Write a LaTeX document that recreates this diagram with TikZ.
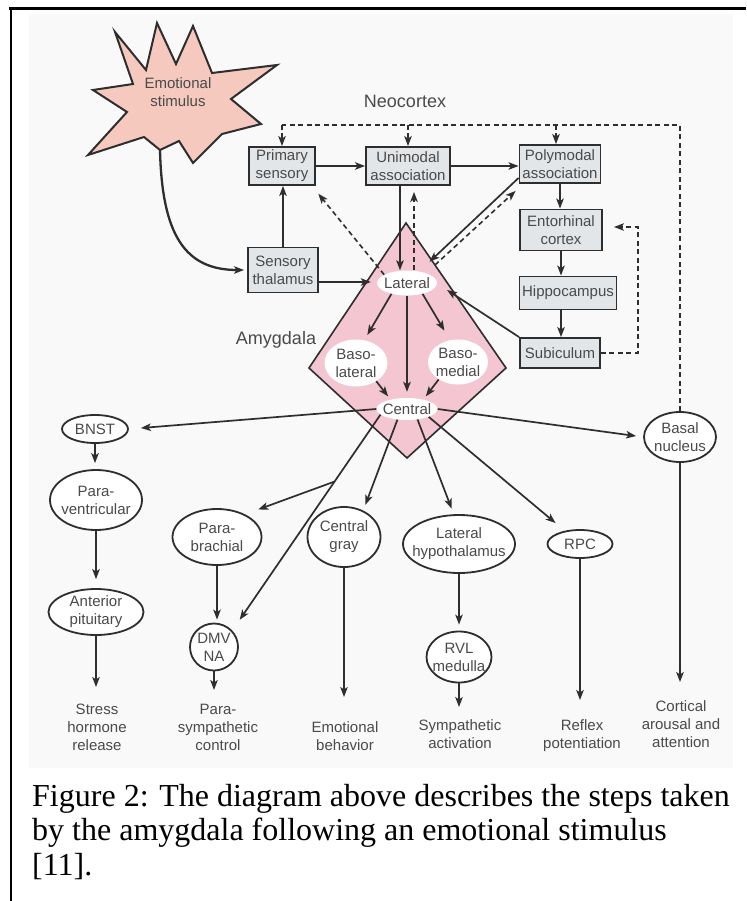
\documentclass[tikz,border=0pt]{standalone}
\usepackage{fontspec}
\setmainfont{Liberation Serif}
\newfontfamily\dsans{Liberation Sans}
\usetikzlibrary{arrows.meta,shapes.geometric,calc}
\definecolor{ink}{HTML}{2E2E2E}
\definecolor{txt}{HTML}{4A4A4A}
\definecolor{boxfill}{HTML}{E2E6E9}
\definecolor{amyg}{HTML}{F3C6D1}
\definecolor{starfill}{HTML}{F5C9BE}
\definecolor{bgpanel}{HTML}{F9F9F9}
\begin{document}
\begin{tikzpicture}[x=1pt,y=-1pt,
  every node/.style={font=\dsans\fontsize{15}{18}\selectfont, text=txt, align=center},
  cbox/.style={rectangle, draw=ink, line width=1.9pt, fill=boxfill, inner sep=0pt},
  oval/.style={ellipse, draw=ink, line width=1.8pt, fill=white, inner sep=0pt},
  wov/.style={ellipse, fill=white, inner sep=0pt},
  lbl/.style={inner sep=0pt, anchor=north},
  bigl/.style={font=\dsans\fontsize{18}{21}\selectfont},
  arr/.style={draw=ink, line width=1.7pt, -{Stealth[length=10pt,width=7.5pt,inset=2.5pt]}},
  dsh/.style={draw=ink, line width=1.6pt, dash pattern=on 5pt off 3.5pt},
  dsharr/.style={dsh, -{Stealth[length=10pt,width=7.5pt,inset=2.5pt]}},
]
\useasboundingbox (0,0) rectangle (746,901);
\fill[bgpanel] (29,14) rectangle (733,768);
\draw[black, line width=2.5pt] (9,8.5) -- (746,8.5);
\draw[black, line width=2pt] (10.5,7.5) -- (10.5,901);

% star
\draw[ink, line width=2pt, fill=starfill] (115,32) -- (146,70) -- (157,23) -- (176,64) -- (193,26) -- (212,73) -- (277,65) -- (231,99) -- (261,124) -- (222,134) -- (193,163) -- (179,141) -- (160,150) -- (144,137) -- (88,155) -- (127,112) -- (93,90) -- (133,84) -- cycle;
\node (stim) at (178,92) {Emotional\\stimulus};
\coordinate (stimtip) at (160,150);

\node[bigl] (neo) at (405,101) {Neocortex};
\node[bigl] (amy) at (276,340) {Amygdala};

% amygdala
\draw[ink, line width=1.6pt, fill=amyg] (406,223) -- (506,368) -- (407,458) -- (309,368) -- cycle;
\node[wov, minimum width=60pt, minimum height=25pt] (lat) at (407,283) {};
\node (latt) at (lat) {Lateral};
\node[wov, minimum width=63pt, minimum height=47pt] (bl) at (356,363) {};
\node (blt) at (bl) {Baso-\\lateral};
\node[wov, minimum width=60pt, minimum height=45pt] (bm) at (458,362) {};
\node (bmt) at (bm) {Baso-\\medial};
\node[wov, minimum width=61pt, minimum height=22pt] (cen) at (407,409) {};
\node (cent) at (cen) {Central};

% boxes
\node[cbox, minimum width=66pt, minimum height=38pt] (prim) at (282,166) {Primary\\sensory};
\node[cbox, minimum width=70pt, minimum height=45pt] (thal) at (283,270) {Sensory\\thalamus};
\node[cbox, minimum width=84pt, minimum height=38pt] (uni) at (408,166) {Unimodal\\association};
\node[cbox, minimum width=81pt, minimum height=38pt] (poly) at (560,164) {Polymodal\\association};
\node[cbox, minimum width=82pt, minimum height=41pt] (ento) at (561,230) {Entorhinal\\cortex};
\node[cbox, minimum width=97pt, minimum height=33pt] (hippo) at (568,293) {Hippocampus};
\node[cbox, minimum width=80pt, minimum height=30pt] (subic) at (560,353) {Subiculum};

% ovals
\node[oval, minimum width=66pt, minimum height=28pt] (bnst) at (95,429) {};
\node (bnstt) at (bnst) {BNST};
\node[oval, minimum width=92pt, minimum height=60pt] (pvn) at (96,500) {};
\node (pvnt) at (pvn) {Para-\\ventricular};
\node[oval, minimum width=95pt, minimum height=46pt] (ap) at (96,612) {};
\node (apt) at (ap) {Anterior\\pituitary};
\node[oval, minimum width=89pt, minimum height=56pt] (pb) at (217,537) {};
\node (pbt) at (pb) {Para-\\brachial};
\node[oval, minimum width=73pt, minimum height=60pt] (cg) at (344,537) {};
\node (cgt) at (cg) {Central\\gray};
\node[oval, minimum width=112pt, minimum height=58pt] (lh) at (459,544) {};
\node (lht) at (lh) {Lateral\\hypothalamus};
\node[oval, minimum width=65pt, minimum height=28pt] (rpc) at (580,544) {};
\node (rpct) at (rpc) {RPC};
\node[oval, minimum width=72pt, minimum height=50pt] (bas) at (680,437) {};
\node (bast) at (bas) {Basal\\nucleus};
\node[oval, minimum width=48pt, minimum height=47pt] (dmv) at (214,647) {};
\node (dmvt) at (dmv) {DMV\\NA};
\node[oval, minimum width=65pt, minimum height=51pt] (rvl) at (459,657) {};
\node (rvlt) at (rvl) {RVL\\medulla};

% end labels
\node[lbl] (stress) at (97,704) {Stress\\hormone\\release};
\node[lbl] (paras) at (218,704) {Para-\\sympathetic\\control};
\node[lbl] (emob) at (345,721) {Emotional\\behavior};
\node[lbl] (sympa) at (460,719) {Sympathetic\\activation};
\node[lbl] (reflex) at (582,719) {Reflex\\potentiation};
\node[lbl] (cort) at (681,700) {Cortical\\arousal and\\attention};

% caption
\node[font=\rmfamily\fontsize{32}{36}\selectfont, text=black, anchor=base west, inner sep=0pt] (cap1) at (32,806) {Figure 2: The diagram above describes the steps taken};
\node[font=\rmfamily\fontsize{32}{36}\selectfont, text=black, anchor=base west, inner sep=0pt] (cap2) at (32,840) {by the amygdala following an emotional stimulus};
\node[font=\rmfamily\fontsize{32}{36}\selectfont, text=black, anchor=base west, inner sep=0pt] (cap3) at (32,875) {[11].};

% coordinates
\coordinate (thalout) at ([yshift=-12pt]thal.east);
\coordinate (unib) at ([xshift=-8pt]uni.south);
\coordinate (unid) at ([xshift=6pt]uni.south);
\coordinate (primse) at ([xshift=30pt]prim.south);
\coordinate (polyo) at ([yshift=6pt]poly.south west);
\coordinate (latne) at ([shift={(28pt,18pt)}]lat.center);
\coordinate (polyi) at ([shift={(-3pt,-7pt)}]poly.south west);
\coordinate (latr) at ([shift={(40pt,-7pt)}]lat.center);
\coordinate (loopc) at (638,227);
\coordinate (entoin) at ([shift={(11pt,3pt)}]ento.east);
\coordinate (topL) at (282,125);
\coordinate (polyn) at ([xshift=-4pt]poly.north);
\coordinate (brpt) at ($(cen.192)!0.31!(dmv.42)$);

% upper connectors
\draw[arr, line width=2.3pt, shorten >=3pt] (stimtip) .. controls (162,235) and (185,270) .. (thal.west);
\draw[arr] (thal.north) -- (thal.north |- prim.south);
\draw[arr] (prim.east) -- (uni.west);
\draw[arr] (uni.east) -- (uni.east -| poly.west);
\draw[arr, shorten >=6pt] (thalout) -- (thalout -| lat.west);
\draw[arr] (unib) -- (unib |- lat.north);
\draw[dsharr, shorten >=6pt] (unid |- lat.north) -- (unid);
\draw[dsharr, shorten >=10pt] (lat.160) -- (primse);
\draw[arr, shorten >=14pt] (polyo) -- (lat);
\draw[dsharr] (latne) -- (polyi);
\draw[arr] (subic.north west) -- (latr);
\draw[arr] (poly.south) -- (poly.south |- ento.north);
\draw[arr] (ento.south) -- (ento.south |- hippo.north);
\draw[arr] (ento.south |- hippo.south) -- (ento.south |- subic.north);
\draw[dsharr] (subic.east) -| (loopc) -- (entoin);
\draw[dsh] (bas.north) |- (topL);
\draw[dsharr] (topL) -- (prim.north);
\draw[dsharr] (uni.north |- topL) -- (uni.north);
\draw[dsharr] (polyn |- topL) -- (polyn);

% amygdala internal
\draw[arr, shorten >=6pt] (lat.215) -- (bl.70);
\draw[arr, shorten >=6pt] (lat.south) -- (cen.north);
\draw[arr, shorten >=11pt] (lat.325) -- (bm.110);
\draw[arr, shorten >=4pt] (bl.318) -- (cen.150);
\draw[arr, shorten >=4pt] (bm.222) -- (cen.30);

% central outputs
\draw[arr, shorten >=12pt] (cen.west) -- (bnst.east);
\draw[arr, shorten >=7pt] (cen.east) -- (bas.west);
\draw[arr, shorten >=6pt] (cen.228) -- (cg.54);
\draw[arr, shorten >=13pt] (cen.192) -- (dmv.42);
\draw[arr, shorten >=14pt] (brpt) -- (pb.39);
\draw[arr, shorten >=6pt] (cen.315) -- (lh.100);
\draw[arr, shorten >=12pt] (cen.340) -- (rpc.139);

% lower chains
\draw[arr, shorten >=6pt] (bnst.south) -- (bnst.south |- pvn.north);
\draw[arr, shorten >=9pt] (pvn.south) -- (pvn.south |- ap.north);
\draw[arr, shorten >=17pt] (ap.south) -- (ap.south |- stress.north);
\draw[arr, shorten >=3pt] (pb.south) -- (pb.south |- dmv.north);
\draw[arr, shorten >=14pt] (dmv.south) -- (dmv.south |- paras.north);
\draw[arr, shorten >=24pt] (cg.south) -- (cg.south |- emob.north);
\draw[arr, shorten >=6pt] (lh.south) -- (lh.south |- rvl.north);
\draw[arr, shorten >=12pt] (rvl.south) -- (rvl.south |- sympa.north);
\draw[arr, shorten >=19pt] (rpc.south) -- (rpc.south |- reflex.north);
\draw[arr, shorten >=18pt] (bas.south) -- (bas.south |- cort.north);
\end{tikzpicture}
\end{document}
